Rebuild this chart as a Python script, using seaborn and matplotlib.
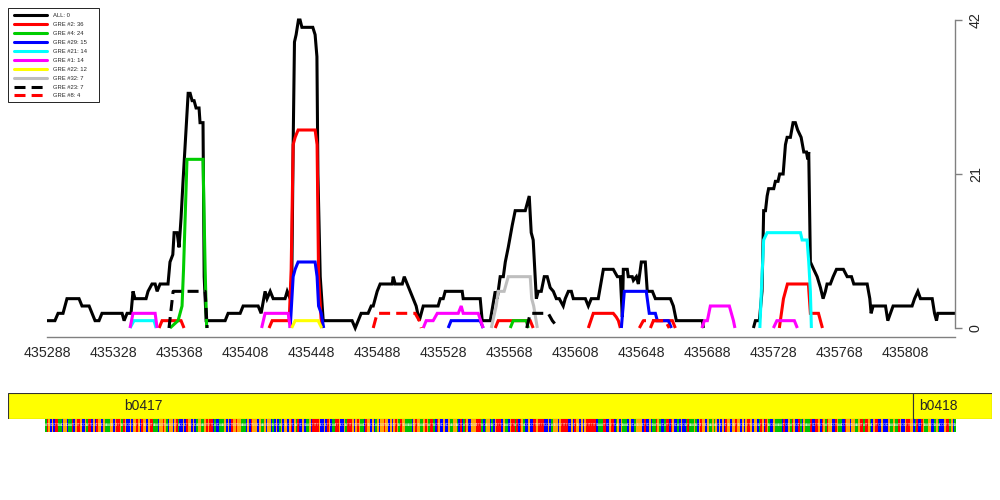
import numpy as np
import pandas as pd
import matplotlib
matplotlib.use('Agg')
import matplotlib.pyplot as plt
import seaborn as sns
from matplotlib.lines import Line2D
from matplotlib.patches import Rectangle
from matplotlib.colors import ListedColormap

# site counts along the region; None splits a series into separate pieces
all_pos = [435288.0, 435292.8, 435294.7, 435297.7, 435300.1, 435307.4, 435309.2, 435313.5, 435315.3, 435317.1,
           435319.5, 435321.3, 435333.5, 435334.7, 435336.5, 435338.9, 435340.1, 435341.3, 435348.0, 435349.2,
           435351.6, 435353.5, 435354.7, 435356.5, 435361.3, 435362.5, 435364.2, 435365.0, 435366.8, 435368.0,
           435369.2, 435370.4, 435372.2, 435373.5, 435374.7, 435375.9, 435377.1, 435378.3, 435380.1, 435380.7,
           435382.5, 435383.2, 435384.4, 435395.9, 435397.7, 435405.0, 435406.8, 435415.9, 435417.7, 435420.1,
           435421.3, 435423.2, 435425.0, 435432.2, 435433.5, 435435.3, 435436.3, 435437.1, 435437.9, 435438.9,
           435440.3, 435441.3, 435442.4, 435449.0, 435450.4, 435451.5, 435452.1, 435453.5, 435455.3, 435472.8,
           435474.7, 435476.5, 435478.3, 435482.5, 435484.4, 435485.6, 435488.0, 435489.8, 435497.1, 435497.7,
           435498.9, 435503.2, 435504.4, 435506.2, 435508.0, 435509.8, 435511.6, 435513.5, 435514.7, 435515.9,
           435524.9, 435526.2, 435528.0, 435529.2, 435539.5, 435540.1, 435550.4, 435551.6, 435556.5, 435559.5,
           435560.7, 435562.5, 435564.4, 435565.6, 435567.4, 435569.8, 435571.6, 435577.7, 435578.9, 435580.1,
           435581.3, 435582.5, 435584.4, 435585.6, 435587.4, 435589.2, 435591.0, 435592.8, 435594.7, 435596.5,
           435598.3, 435600.7, 435601.9, 435603.8, 435605.6, 435606.8, 435614.1, 435615.9, 435617.7, 435621.9,
           435625.0, 435631.0, 435633.5, 435635.3, 435636.5, 435637.1, 435639.5, 435640.1, 435642.5, 435643.2,
           435645.0, 435646.2, 435648.0, 435650.4, 435651.6, 435654.7, 435656.5, 435665.6, 435667.4, 435669.2,
           435685.0, 435685.6, None,
           435715.9, 435717.1, 435719.5, 435721.1, 435722.1, 435723.2, 435724.2, 435725.1, 435728.2, 435729.2,
           435730.8, 435731.8, 435733.9, 435735.3, 435736.3, 435738.3, 435739.9, 435741.3, 435742.7, 435744.8,
           435746.4, 435748.0, 435748.8, 435749.4, 435750.4, 435752.4, 435754.5, 435756.5, 435758.1, 435759.5,
           435760.5, 435762.5, 435764.2, 435766.2, 435770.4, 435772.7, 435775.3, 435776.7, 435784.8, 435786.4,
           435787.2, 435788.4, 435795.9, 435797.3, 435800.5, 435812.0, 435813.5, 435815.5, 435817.1, 435824.2,
           435825.6, 435826.8, 435827.6, 435838.0]
all_cnt = [1, 1, 2, 2, 4, 4, 3, 3, 2, 1,
           1, 2, 2, 1, 2, 2, 5, 4, 4, 5,
           6, 6, 5, 6, 6, 9, 10, 13, 13, 11,
           15, 20, 27, 32, 32, 31, 31, 30, 30, 28,
           28, 7, 1, 1, 2, 2, 3, 3, 2, 5,
           4, 5, 4, 4, 5, 4, 7, 25, 39, 40,
           42, 42, 41, 41, 40, 37, 21, 7, 1, 1,
           0, 1, 2, 2, 3, 3, 5, 6, 6, 7,
           6, 6, 7, 6, 5, 4, 3, 1, 2, 3,
           3, 4, 4, 5, 5, 4, 4, 1, 1, 5,
           4, 7, 7, 9, 11, 14, 16, 16, 17, 18,
           13, 12, 4, 5, 5, 7, 7, 5.5, 5, 4,
           4, 3, 4, 5, 5, 4, 4, 3, 4, 4,
           8, 8, 7, 7, 1.5, 8, 8, 7, 7, 6.5,
           7, 6, 9, 9, 5, 5, 4, 4, 3, 1,
           1, 0, None,
           0, 1, 1, 5, 16, 16, 18, 19, 19, 20,
           20, 21, 21, 25, 26, 26, 28, 28, 27, 26,
           24, 24, 23, 24, 9, 8, 7, 5.5, 4, 5,
           6, 6, 7, 8, 8, 7, 7, 6, 6, 4,
           2, 3, 3, 1, 3, 3, 4, 5, 4, 4,
           2, 1, 2, 2]

gre2_pos = [435355.9, 435357.7, 435369.2, 435371.0, None,
            435422.5, 435424.4, 435434.7, 435435.9, 435437.1, 435438.3, 435440.1, 435450.4, 435451.6, 435452.5,
            435454.1, 435454.7, None,
            435559.5, 435561.3, 435580.7, 435582.5, None,
            435615.9, 435618.9, 435631.0, 435632.8, 435634.1, 435635.3, None,
            435653.5, 435655.3, 435666.8, 435668.6, None,
            435731.6, 435734.1, 435736.5, 435749.2, 435750.4, 435755.3, 435757.7]
gre2_cnt = [0, 1, 1, 0, None,
            0, 1, 1, 8, 25, 26, 27, 27, 25, 7,
            1, 0, None,
            0, 1, 1, 0, None,
            0, 2, 2, 1.5, 1, 0, None,
            0, 1, 1, 0, None,
            0, 4, 6, 6, 2, 2, 0]

gre4_pos = [435362.5, 435367.4, 435368.6, 435369.8, 435370.7, 435372.8, 435382.5, 435383.8, 435384.7, None,
            435568.6, 435570.4, 435578.3, 435579.5]
gre4_cnt = [0, 1, 2, 3, 8, 23, 23, 8, 0, None,
            0, 1, 1, 0]

gre29_pos = [435435.3, 435437.1, 435438.3, 435440.1, 435450.4, 435451.6, 435452.5, 435454.1, 435455.6, None,
             435531.0, 435532.8, 435550.4, 435552.2, None,
             435635.9, 435637.7, 435651.0, 435652.8, 435656.5, 435657.7, 435664.4, 435666.2]
gre29_cnt = [0, 7, 8, 9, 9, 7, 3, 2, 0, None,
             0, 1, 1, 0, None,
             0, 5, 5, 2, 2, 1, 1, 0]

gre21_pos = [435338.3, 435340.7, 435352.8, 435354.1, None,
             435719.8, 435720.7, 435722.1, 435724.2, 435744.4, 435745.4, 435748.4, 435749.4, 435750.4, 435751.0]
gre21_cnt = [0, 1, 1, 0, None,
             0, 5, 12, 13, 13, 12, 12, 9, 5, 0]

gre1_pos = [435338.3, 435340.1, 435353.5, 435354.7, None,
            435418.0, 435420.1, 435434.1, 435435.3, None,
            435515.9, 435517.7, 435521.9, 435524.4, 435537.1, 435538.9, 435540.1, 435549.2, 435552.2, None,
            435684.7, 435686.2, 435688.0, 435689.8, 435701.3, 435703.8, 435704.7, None,
            435728.0, 435730.1, 435740.7, 435742.5]
gre1_cnt = [0, 2, 2, 0, None,
            0, 2, 2, 0, None,
            0, 1, 1, 2, 2, 3, 2, 2, 0, None,
            0, 1, 1, 3, 3, 1, 0, None,
            0, 1, 1, 0]

gre22_pos = [435436.2, 435438.3, 435452.2, 435454.4]
gre22_cnt = [0, 1, 1, 0]

gre32_pos = [435557.1, 435560.1, 435561.3, 435564.9, 435567.4, 435580.7, 435581.6, 435582.8, 435585.0]
gre32_cnt = [0, 3, 5, 5, 7, 7, 4, 3, 0]

gre23_pos = [435361.9, 435364.4, 435383.8, 435385.0, None,
             435578.6, 435580.7, 435591.6, 435594.1, 435597.7]
gre23_cnt = [0, 5, 5, 0, None,
             0, 2, 2, 1, 0]

gre8_pos = [435485.6, 435488.0, 435511.0, 435513.5, 435514.7, None,
            435646.8, 435649.2, 435662.5, 435664.9]
gre8_cnt = [0, 2, 2, 1, 0, None,
            0, 1, 1, 0]

series_names = ['ALL', 'GRE #2', 'GRE #4', 'GRE #29', 'GRE #21', 'GRE #1', 'GRE #22', 'GRE #32', 'GRE #23', 'GRE #8']
series_sites = [0, 36, 24, 15, 14, 14, 12, 7, 7, 4]
series_colors = ['black', '#ff0000', '#00cd00', '#0000ff', '#00ffff', '#ff00ff', '#ffff00', '#bebebe', 'black', '#ff0000']
series_dashed = [False, False, False, False, False, False, False, False, True, True]
series_pos = [all_pos, gre2_pos, gre4_pos, gre29_pos, gre21_pos, gre1_pos, gre22_pos, gre32_pos, gre23_pos, gre8_pos]
series_cnt = [all_cnt, gre2_cnt, gre4_cnt, gre29_cnt, gre21_cnt, gre1_cnt, gre22_cnt, gre32_cnt, gre23_cnt, gre8_cnt]

xtick_labels = ['435288', '435328', '435368', '435408', '435448', '435488', '435528',
                '435568', '435608', '435648', '435688', '435728', '435768', '435808']
ytick_values = [0, 21, 42]
region = (435288, 435838)

genes = ['b0417', 'b0418']
gene_start = [435264.4, 435813.0]
gene_end = [435813.0, 435860.7]
gene_label_x = [435335.0, 435816.5]

sequence = ("ATGCGCTTAACGGCAATCGTTGCCGATTCGCTGGCGAAAGGCGTTGATGCCGCGGTGCTGGCGTTAAACGGTGACGGCGTACCGCTGG"
            "CGCAGGAAGTGTTCACCAAAGCGCTGGTGGAAACGCTGGGCGAAGCGGCACGCAGCGGCGTCGATCCGCAAGCTTTTGCCGCTGCAATT"
            "GCCGATTTGCGTGAACTGGCGCAGCGGTGGCGCGTGATGGAAAACGTGGAAGTGATTACTGCCGCCGAAGGACTCATGCCGGGTTTACA"
            "GGCACGTTTCGAACGTTATCTGACCGCCTTGTTTTCCGCAGGGCGTTTTCCGCTGGCGCGTTTTTTCAAATTCCGTTCAGCGAAACGCC"
            "AGGGGCTCCGCAATGACCATTCTGCCACGCCATAAAGACGTGGCGAAGAGCGCGCTGGCGGTGGCGCGTTGCGGCATGCTGACCGAAAA"
            "CTCCGATGCCTACGAAATCCTTGCTGATGGCCTGAACCTGGCGGAAGTTATTGACGTTCCGCCCGAAGAATGCCGTTGGCATCCTGAAG"
            "GCCAGACCCGTTAGCA")
base_order = ['A', 'C', 'G', 'T']
base_colors = ['#00c000', '#0000ff', '#ffa500', '#ff0000']

# long table, one row per point, with a piece id per series
rows = []
for name, pos, cnt in zip(series_names, series_pos, series_cnt):
    piece = 0
    for p, c in zip(pos, cnt):
        if p is None:
            piece += 1
            continue
        rows.append((name, piece, p, c))
df = pd.DataFrame(rows, columns=['series', 'piece', 'pos', 'count'])

sns.set_style('white')
plt.rcParams['font.family'] = ['Liberation Sans', 'DejaVu Sans']

fig = plt.figure(figsize=(10, 5), dpi=100)
ax = fig.add_axes([47 / 1000, 1 - 328 / 500, 908 / 1000, 308 / 500])

lw = 2.2
dash = (3.6, 2.0)
palette = dict(zip(series_names, series_colors))
dashes = {n: (dash if d else '') for n, d in zip(series_names, series_dashed)}
sns.lineplot(data=df, x='pos', y='count', hue='series', style='series', units='piece',
             estimator=None, sort=False, palette=palette, dashes=dashes,
             hue_order=series_names, style_order=series_names,
             linewidth=lw, legend=False, ax=ax)
for line in ax.lines:
    line.set_clip_on(False)
    line.set_solid_capstyle('butt')
    line.set_solid_joinstyle('miter')

ax.set_xlim(*region)
ax.set_ylim(0, 42)
ax.set_xlabel('')
ax.set_ylabel('')

axis_grey = '#808080'
ax.spines['top'].set_visible(False)
ax.spines['left'].set_visible(False)
ax.spines['bottom'].set_position(('outward', 6.5))
ax.spines['bottom'].set_color(axis_grey)
ax.spines['right'].set_color(axis_grey)
ax.spines['bottom'].set_linewidth(1)
ax.spines['right'].set_linewidth(1)

xticks = np.arange(region[0], region[1] + 1, 10)
ax.set_xticks(xticks)
ax.set_xticklabels([str(t) if str(t) in xtick_labels else '' for t in xticks], fontsize=10.3)
ax.tick_params(axis='x', length=5, width=1, color=axis_grey, pad=1.5, direction='out')

ax.yaxis.tick_right()
ax.set_yticks(ytick_values)
ax.set_yticklabels([str(v) for v in ytick_values], fontsize=10.3, rotation=90, va='center')
ax.tick_params(axis='y', length=5, width=1, color=axis_grey, pad=5, direction='out')

# legend: entries without frame, box drawn separately
handles = [Line2D([], [], color=c, lw=lw, linestyle=(0, dash) if d else '-')
           for c, d in zip(series_colors, series_dashed)]
labels = [f'{n}: {s}' for n, s in zip(series_names, series_sites)]
fig.legend(handles, labels, loc='upper left', bbox_to_anchor=(14 / 1000, 1 - 13 / 500),
           fontsize=4.2, handlelength=5.6, handletextpad=1.1, labelspacing=0.66,
           borderpad=0, borderaxespad=0, frameon=False)
fig.patches.append(Rectangle((8.3 / 1000, 1 - 101.7 / 500), 90.7 / 1000, 93.4 / 500,
                             transform=fig.transFigure, fill=False, ec='black', lw=0.6))

# gene track
gax = fig.add_axes([8 / 1000, 1 - 419 / 500, 984 / 1000, 26 / 500])
gax.barh([0.5] * len(genes), [e - s for s, e in zip(gene_start, gene_end)], left=gene_start,
         height=1, color='#ffff00', edgecolor='#333333', linewidth=0.8)
for name, x in zip(genes, gene_label_x):
    gax.text(x, 0.5, name, fontsize=10, ha='left', va='center')
gax.set_xlim(gene_start[0], gene_end[-1])
gax.set_ylim(0, 1)
gax.axis('off')

# sequence strip, bases as coloured cells with tiny white letters
sax = fig.add_axes([45 / 1000, 1 - 432 / 500, 911 / 1000, 13 / 500])
codes = np.array([[base_order.index(b) for b in sequence]])
sns.heatmap(codes, cmap=ListedColormap(base_colors), vmin=-0.5, vmax=3.5, cbar=False,
            xticklabels=False, yticklabels=False, ax=sax)
for i, b in enumerate(sequence):
    sax.text(i + 0.5, 0.5, b, color='white', fontsize=2.2, ha='center', va='center')
sax.axis('off')

fig.savefig('out.png', dpi=100)
